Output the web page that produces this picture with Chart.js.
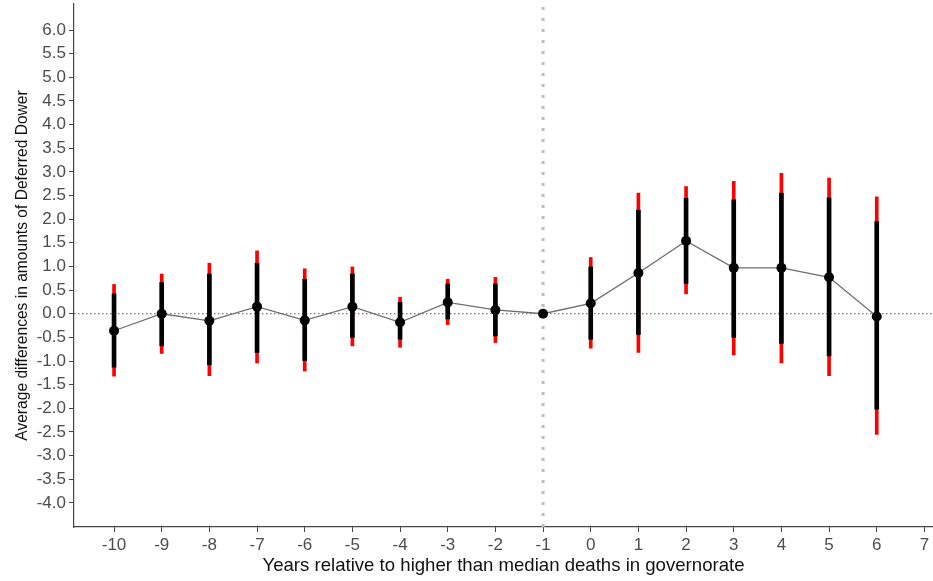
<!DOCTYPE html>
<html>
<head>
<meta charset="utf-8">
<script src="https://cdn.jsdelivr.net/npm/chart.js@4"></script>
<style>
  html, body { margin: 0; padding: 0; background: #fff; overflow: hidden; }
  #eventChart { display: block; }
</style>
</head>
<body>
<canvas id="eventChart" width="933" height="581"></canvas>
<script>
// Years relative to event and estimated coefficients
const years = [-10, -9, -8, -7, -6, -5, -4, -3, -2, -1, 0, 1, 2, 3, 4, 5, 6];
const estimates = [-0.36, 0.0, -0.15, 0.15, -0.14, 0.15, -0.18, 0.24, 0.08, 0.0, 0.22, 0.86, 1.54, 0.97, 0.97, 0.77, -0.06];

// Inner interval (black)
const innerLow  = [-1.13, -0.68, -1.08, -0.82, -0.99, -0.50, -0.54, -0.11, -0.47, null, -0.54, -0.44, 0.64, -0.50, -0.63, -0.89, -2.02];
const innerHigh = [0.42, 0.66, 0.84, 1.07, 0.73, 0.84, 0.24, 0.63, 0.63, null, 0.99, 2.19, 2.44, 2.41, 2.55, 2.45, 1.95];

// Outer interval (red)
const outerLow  = [-1.32, -0.84, -1.31, -1.04, -1.21, -0.68, -0.71, -0.23, -0.61, null, -0.73, -0.82, 0.42, -0.87, -1.04, -1.31, -2.55];
const outerHigh = [0.62, 0.84, 1.07, 1.33, 0.95, 0.99, 0.35, 0.73, 0.77, null, 1.19, 2.55, 2.69, 2.80, 2.97, 2.87, 2.47];

// Tick labels
const xTicks = [-10, -9, -8, -7, -6, -5, -4, -3, -2, -1, 0, 1, 2, 3, 4, 5, 6, 7];
const yTicks = [-4.0, -3.5, -3.0, -2.5, -2.0, -1.5, -1.0, -0.5, 0.0, 0.5, 1.0, 1.5, 2.0, 2.5, 3.0, 3.5, 4.0, 4.5, 5.0, 5.5, 6.0];

const eventYear = -1;

function intervalData(low, high) {
    const out = [];
    years.forEach((yr, i) => {
        if (low[i] !== null && high[i] !== null) {
            out.push({ x: yr, y: [low[i], high[i]] });
        }
    });
    return out;
}

document.addEventListener('DOMContentLoaded', function() {
    const ctx = document.getElementById('eventChart');
    const xMin = -10.84, xMax = 7.18, yMin = -4.51, yMax = 6.55;
    const fontFamily = "'Liberation Sans', Arial, sans-serif";

    new Chart(ctx, {
        type: 'bar',
        data: {
            datasets: [
                {
                    type: 'line',
                    label: 'zero',
                    data: [{ x: xMin, y: 0 }, { x: xMax, y: 0 }],
                    borderColor: '#555',
                    borderWidth: 1,
                    borderDash: [1.5, 2.5],
                    pointRadius: 0,
                    order: 5
                },
                {
                    type: 'line',
                    label: 'event',
                    data: [{ x: eventYear, y: yMin }, { x: eventYear, y: yMax }],
                    borderColor: '#bdbdbd',
                    borderWidth: 3,
                    borderDash: [3, 8],
                    borderCapStyle: 'butt',
                    pointRadius: 0,
                    order: 6
                },
                {
                    label: 'outer',
                    data: intervalData(outerLow, outerHigh),
                    backgroundColor: '#ff0000',
                    barThickness: 3,
                    grouped: false,
                    order: 3
                },
                {
                    label: 'inner',
                    data: intervalData(innerLow, innerHigh),
                    backgroundColor: '#000000',
                    barThickness: 4,
                    grouped: false,
                    order: 2
                },
                {
                    type: 'line',
                    label: 'estimate',
                    data: years.map((yr, i) => ({ x: yr, y: estimates[i] })),
                    borderColor: '#6e6e6e',
                    borderWidth: 1.3,
                    pointRadius: 5,
                    pointBackgroundColor: '#000',
                    pointBorderColor: '#000',
                    pointBorderWidth: 0,
                    order: 1
                }
            ]
        },
        options: {
            responsive: false,
            animation: false,
            layout: { autoPadding: false, padding: { top: 4, left: 0, right: 0, bottom: 0 } },
            plugins: {
                legend: { display: false },
                tooltip: { enabled: false }
            },
            scales: {
                x: {
                    type: 'linear',
                    min: xMin,
                    max: xMax,
                    offset: false,
                    afterBuildTicks: function(scale) {
                        scale.ticks = xTicks.map(v => ({ value: v }));
                    },
                    afterFit: function(scale) {
                        scale.height = 54;
                        scale.paddingLeft = 0;
                        scale.paddingRight = 0;
                    },
                    ticks: {
                        color: '#4d4d4d',
                        padding: 3,
                        maxRotation: 0,
                        autoSkip: false,
                        font: { family: fontFamily, size: 17 },
                        callback: v => String(v)
                    },
                    grid: {
                        display: true,
                        drawOnChartArea: false,
                        offset: false,
                        tickLength: 5,
                        color: '#444'
                    },
                    border: { display: true, color: '#444', width: 1.2 },
                    title: {
                        display: true,
                        text: 'Years relative to higher than median deaths in governorate',
                        color: '#111',
                        padding: { top: 0, bottom: 4 },
                        font: { family: fontFamily, size: 18.6 }
                    }
                },
                y: {
                    type: 'linear',
                    min: yMin,
                    max: yMax,
                    afterBuildTicks: function(scale) {
                        scale.ticks = yTicks.map(v => ({ value: v }));
                    },
                    afterFit: function(scale) {
                        scale.width = 74;
                        scale.paddingTop = 0;
                        scale.paddingBottom = 0;
                    },
                    ticks: {
                        color: '#4d4d4d',
                        padding: 3,
                        autoSkip: false,
                        font: { family: fontFamily, size: 17 },
                        callback: v => Number(v).toFixed(1)
                    },
                    grid: {
                        display: true,
                        drawOnChartArea: false,
                        tickLength: 5,
                        color: '#444'
                    },
                    border: { display: true, color: '#444', width: 1.2 },
                    title: {
                        display: true,
                        text: 'Average differences in amounts of Deferred Dower',
                        color: '#111',
                        padding: { top: 13, bottom: 0 },
                        font: { family: fontFamily, size: 15.6 }
                    }
                }
            }
        }
    });
});
</script>
</body>
</html>
